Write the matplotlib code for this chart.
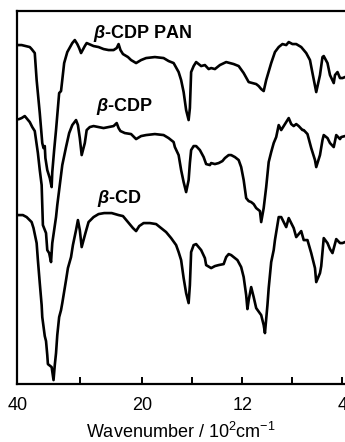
import numpy as np
import matplotlib
matplotlib.use("Agg")
import matplotlib.pyplot as plt

plt.rcParams['font.family'] = ['Liberation Sans', 'DejaVu Sans']
plt.rcParams['mathtext.fontset'] = 'custom'
plt.rcParams['mathtext.rm'] = 'Liberation Sans'
plt.rcParams['mathtext.it'] = 'Liberation Sans:italic'
plt.rcParams['mathtext.bf'] = 'Liberation Sans:bold:italic'

# wavenumber in 10^2 cm^-1, transmittance in arbitrary (offset) units
pan_wn = [39.8, 39.3, 38.0, 37.7, 37.2, 36.9, 36.4, 36.0, 35.8, 35.6, 35.5, 35.2, 34.9, 34.8,
          34.5, 34.4, 34.1, 33.8, 33.3, 33.0, 32.5, 32.0, 31.2, 30.8, 30.4, 30.1, 29.8, 29.2,
          28.9, 27.8, 27.0, 26.2, 25.4, 24.6, 24.1, 23.8, 23.5, 23.1, 22.3, 21.8, 21.0, 20.2,
          19.7, 19.0, 18.3, 17.9, 17.5, 17.1, 16.9, 16.7, 16.5, 16.3, 16.2, 16.1, 15.9, 15.7,
          15.3, 15.0, 14.7, 14.5, 14.2, 13.8, 13.3, 12.7, 12.3, 11.9, 11.5, 11.2, 10.9, 10.7,
          10.5, 10.3, 10.1, 9.7, 9.4, 9.1, 8.8, 8.5, 8.3, 8.0, 7.7, 7.3, 6.9, 6.6, 6.4, 6.1,
          5.8, 5.6, 5.5, 5.2, 5.0, 4.7, 4.6, 4.4, 4.2, 4.0, 3.8]
pan_t = [339, 339, 337, 335, 331, 304, 271, 241, 236, 238, 226, 214, 208, 206,
         197, 212, 234, 254, 291, 293, 321, 332, 341, 344, 340, 336, 331, 338,
         341, 338, 337, 335, 334, 334, 336, 340, 334, 330, 327, 324, 321, 324,
         326, 327, 326, 323, 321, 312, 304, 292, 274, 264, 276, 312, 318, 322,
         318, 319, 315, 316, 315, 319, 322, 320, 318, 311, 302, 301, 300, 298,
         295, 293, 304, 321, 332, 337, 340, 339, 342, 340, 340, 337, 331, 324, 311, 292,
         309, 327, 328, 321, 309, 301, 309, 312, 306, 306, 307]

cdp_wn = [39.7, 39.3, 38.8, 38.0, 37.6, 37.2, 36.7, 36.4, 36.1, 36.0, 35.9, 35.4, 35.2, 34.9,
          34.6, 34.4, 34.1, 33.8, 33.6, 33.3, 32.8, 32.2, 31.7, 31.2, 30.6, 30.3, 30.0, 29.7,
          29.2, 28.9, 28.4, 27.8, 27.0, 26.2, 25.4, 24.6, 24.1, 23.8, 23.5, 22.8, 21.8, 21.0,
          20.2, 19.7, 19.0, 18.3, 17.9, 17.5, 17.4, 17.1, 16.9, 16.7, 16.5, 16.3, 16.2, 16.1,
          15.9, 15.7, 15.4, 15.1, 14.9, 14.6, 14.5, 14.2, 13.9, 13.6, 13.4, 13.1, 12.9, 12.6,
          12.3, 12.1, 11.9, 11.7, 11.5, 11.3, 11.1, 10.9, 10.6, 10.5, 10.3, 10.1, 9.9, 9.7,
          9.5, 9.3, 9.1, 8.9, 8.6, 8.3, 8.1, 7.9, 7.7, 7.5, 7.2, 7.1, 6.8, 6.5, 6.2, 6.1,
          5.8, 5.6, 5.5, 5.2, 5.0, 4.7, 4.5, 4.2, 4.1, 3.8]
cdp_t = [265, 266, 268, 262, 257, 253, 231, 214, 199, 179, 159, 151, 134, 131,
         122, 141, 154, 167, 179, 194, 219, 237, 251, 259, 264, 259, 246, 229,
         241, 254, 257, 258, 257, 256, 257, 258, 261, 256, 253, 251, 250, 245,
         248, 249, 250, 249, 246, 242, 237, 229, 214, 202, 192, 204, 221, 234,
         238, 238, 234, 227, 220, 219, 221, 220, 221, 223, 226, 229, 229, 227,
         224, 217, 204, 186, 183, 182, 180, 176, 173, 162, 176, 197, 222, 232,
         241, 247, 259, 254, 260, 266, 260, 258, 260, 258, 254, 254, 250, 236, 224, 217,
         229, 244, 249, 246, 241, 237, 249, 245, 247, 248]

cd_wn = [39.7, 39.1, 38.5, 37.7, 37.4, 36.9, 36.7, 36.4, 36.1, 36.0, 35.6, 35.4, 35.2, 35.1,
         34.9, 34.5, 34.2, 34.0, 33.8, 33.6, 33.3, 33.0, 32.8, 32.2, 31.9, 31.4, 31.1, 30.6,
         30.3, 30.0, 29.7, 29.4, 29.1, 28.6, 27.8, 27.0, 26.1, 24.9, 23.8, 23.1, 22.3, 21.5,
         21.0, 20.5, 19.9, 19.4, 18.9, 18.5, 18.1, 17.7, 17.3, 17.1, 16.9, 16.7, 16.5, 16.3,
         16.2, 16.1, 15.9, 15.7, 15.3, 15.0, 14.9, 14.5, 14.2, 13.9, 13.5, 13.3, 13.1, 12.9,
         12.7, 12.4, 12.1, 11.9, 11.7, 11.6, 11.5, 11.3, 11.1, 10.9, 10.5, 10.3, 10.2, 10.0,
         9.9, 9.7, 9.5, 9.4, 9.1, 8.9, 8.5, 8.3, 7.9, 7.7, 7.3, 7.1, 6.8, 6.5, 6.2, 6.1,
         5.8, 5.7, 5.5, 5.2, 5.0, 4.8, 4.5, 4.2, 4.0, 3.8]
cd_t = [169, 169, 167, 162, 156, 141, 124, 101, 79, 67, 48, 43, 29, 20,
        19, 17, 4, 19, 31, 49, 67, 74, 81, 104, 116, 127, 139, 154,
        164, 154, 137, 144, 151, 162, 167, 170, 171, 171, 169, 168, 162, 156,
        153, 158, 161, 161, 160, 156, 152, 146, 139, 132, 124, 106, 91, 81,
        99, 132, 139, 140, 134, 126, 119, 116, 118, 119, 120, 127, 130, 129,
        127, 124, 117, 107, 89, 75, 84, 97, 87, 76, 69, 59, 51, 79,
        96, 122, 134, 144, 167, 167, 157, 166, 156, 147, 153, 144, 144, 131, 116, 102,
        111, 118, 146, 141, 135, 131, 145, 141, 141, 142]

labels = [r'$\mathbf{\beta}$-CDP PAN', r'$\mathbf{\beta}$-CDP', r'$\mathbf{\beta}$-CD']
major_ticks = [40, 20, 12, 4]
minor_ticks = [30, 16, 8]


def fwd(w):
    # IR chart: scale halves above 2000 cm-1
    w = np.asarray(w, dtype=float)
    return np.where(w > 20, 20 + (w - 20) / 2.0, w)


def inv(u):
    u = np.asarray(u, dtype=float)
    return np.where(u > 20, 20 + (u - 20) * 2.0, u)


fig = plt.figure(figsize=(3.45, 4.42), dpi=100)
ax = fig.add_axes([0.050, 0.131, 0.950, 0.844])
ax.set_xscale('function', functions=(fwd, inv))

for wn, t in [(pan_wn, pan_t), (cdp_wn, cdp_t), (cd_wn, cd_t)]:
    ax.plot(wn, t, color='black', lw=1.9, solid_joinstyle='round')

ax.set_xlim(40, 3.8)
ax.set_ylim(0, 373)

ax.set_xticks(major_ticks)
ax.set_xticklabels([str(v) for v in major_ticks])
ax.set_xticks(minor_ticks, minor=True)
ax.tick_params(axis='x', which='both', direction='in', length=5, width=1.4,
               labelsize=13, pad=9)
ax.set_yticks([])
ax.spines['right'].set_visible(False)
for s in ['left', 'bottom', 'top']:
    ax.spines[s].set_linewidth(1.6)

ax.set_xlabel(r'Wavenumber / 10$^2$cm$^{-1}$', fontsize=13, labelpad=6)

ax.text(0.384, 0.941, labels[0], transform=ax.transAxes, ha='center', va='center',
        fontsize=13, fontweight='bold')
ax.text(0.326, 0.745, labels[1], transform=ax.transAxes, ha='center', va='center',
        fontsize=13, fontweight='bold')
ax.text(0.313, 0.497, labels[2], transform=ax.transAxes, ha='center', va='center',
        fontsize=13, fontweight='bold')

fig.savefig('out.png', dpi=100)
